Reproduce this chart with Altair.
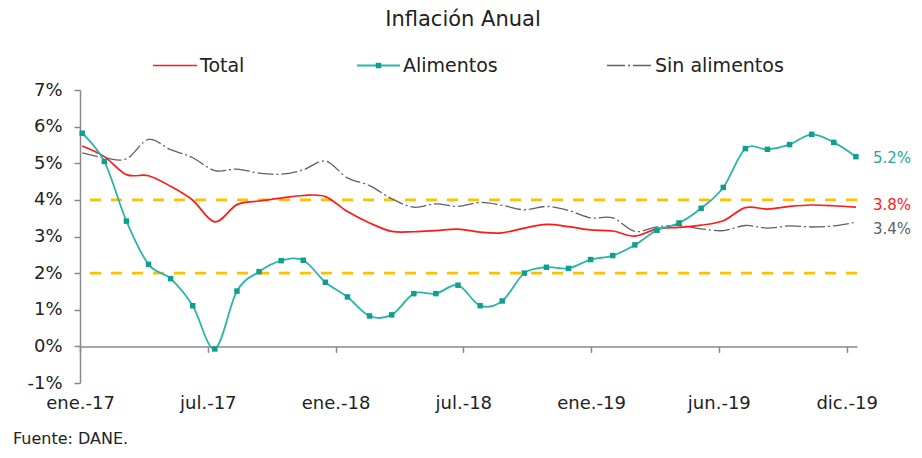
import altair as alt
import pandas as pd

# ---------------- data ----------------
months = ["2017-01", "2017-02", "2017-03", "2017-04", "2017-05", "2017-06",
          "2017-07", "2017-08", "2017-09", "2017-10", "2017-11", "2017-12",
          "2018-01", "2018-02", "2018-03", "2018-04", "2018-05", "2018-06",
          "2018-07", "2018-08", "2018-09", "2018-10", "2018-11", "2018-12",
          "2019-01", "2019-02", "2019-03", "2019-04", "2019-05", "2019-06",
          "2019-07", "2019-08", "2019-09", "2019-10", "2019-11", "2019-12"]

total = [5.47, 5.18, 4.69, 4.66, 4.37, 3.99, 3.40, 3.87, 3.97, 4.05, 4.12, 4.09,
         3.68, 3.37, 3.14, 3.13, 3.16, 3.20, 3.12, 3.10, 3.23, 3.33, 3.27, 3.18,
         3.15, 3.01, 3.21, 3.25, 3.31, 3.43, 3.79, 3.75, 3.82, 3.86, 3.84, 3.80]

alimentos = [5.82, 5.05, 3.42, 2.24, 1.85, 1.11, -0.07, 1.51, 2.04, 2.34, 2.35, 1.75,
             1.35, 0.83, 0.86, 1.44, 1.44, 1.67, 1.11, 1.24, 2.00, 2.16, 2.13, 2.37,
             2.48, 2.77, 3.17, 3.37, 3.77, 4.34, 5.40, 5.38, 5.51, 5.79, 5.57, 5.18]

sin_alimentos = [5.28, 5.15, 5.12, 5.65, 5.37, 5.15, 4.80, 4.84, 4.73, 4.70, 4.82, 5.06,
                 4.60, 4.39, 4.03, 3.80, 3.89, 3.82, 3.93, 3.85, 3.73, 3.82, 3.71, 3.51,
                 3.51, 3.14, 3.26, 3.30, 3.21, 3.16, 3.30, 3.23, 3.29, 3.26, 3.29, 3.39]

series_names = ["Total", "Alimentos", "Sin alimentos"]
series_colors = ["#FF1A1A", "#22A99B", "#5F5F6A"]
reference_levels = [2, 4]
tick_labels = ["ene.-17", "jul.-17", "ene.-18", "jul.-18", "ene.-19", "jun.-19", "dic.-19"]
title_text = "Inflación Anual"
source_text = "Fuente: DANE."

# ---------------- layout / style ----------------
W, H = 777, 293
PAD = {"left": 72, "top": 82, "right": 57, "bottom": 67}
Y_MIN, Y_MAX = -1, 7
X_MIN, X_MAX = -0.1, 35.05
TICK_STEP = 5.78
FONT = "DejaVu Sans"
TXT = "#222222"
AX = "#8a8a8a"

rows = []
for name, vals in zip(series_names, [total, alimentos, sin_alimentos]):
    for i, (m, v) in enumerate(zip(months, vals)):
        rows.append({"serie": name, "i": i, "mes": m, "valor": v})
df = pd.DataFrame(rows)
last_i = len(months) - 1

tick_vals = [X_MIN + k * TICK_STEP for k in range(len(tick_labels))]
label_expr = ("[" + ",".join(f"'{t}'" for t in tick_labels) + "]"
              + f"[round((datum.value - ({X_MIN})) / {TICK_STEP})]")

x_scale = alt.Scale(domain=[X_MIN, X_MAX], nice=False, zero=False)
y_scale = alt.Scale(domain=[Y_MIN, Y_MAX], nice=False, zero=False)

y_axis = alt.Axis(values=list(range(Y_MIN, Y_MAX + 1)), labelExpr="datum.value + '%'",
                  grid=False, domainColor=AX, domainWidth=1.5, tickColor=AX, tickWidth=1.5,
                  tickSize=6, labelPadding=12, labelFont=FONT, labelFontSize=18,
                  labelColor=TXT, title=None)

label_axis = alt.Axis(orient="bottom", values=tick_vals, labelExpr=label_expr, domain=False,
                      ticks=False, tickSize=0, labelPadding=11, labelFont=FONT,
                      labelFontSize=18, labelColor=TXT, labelOverlap=False, labelFlush=False,
                      grid=False, title=None)

zero_offset = -(H * (0 - Y_MIN) / (Y_MAX - Y_MIN))
tick_axis = alt.Axis(orient="bottom", values=tick_vals, labels=False, domain=True, ticks=True,
                     tickSize=6, domainColor=AX, domainWidth=1.5, tickColor=AX, tickWidth=1.5,
                     offset=zero_offset, grid=False, title=None)


def x_enc(axis):
    return alt.X("i:Q", scale=x_scale, axis=axis)


y_enc = alt.Y("valor:Q", scale=y_scale, axis=y_axis)

base = alt.Chart(df)

ref = alt.Chart(pd.DataFrame({"valor": reference_levels})).mark_rule(
    color="#FFC000", strokeWidth=2.6, strokeDash=[11, 10]
).encode(y=y_enc)

gray_line = base.transform_filter(alt.datum.serie == series_names[2]).mark_line(
    color=series_colors[2], strokeWidth=1.3, strokeDash=[16, 3, 2, 3], interpolate="cardinal"
).encode(x=x_enc(None), y=y_enc)

red_line = base.transform_filter(alt.datum.serie == series_names[0]).mark_line(
    color=series_colors[0], strokeWidth=1.7, interpolate="cardinal"
).encode(x=x_enc(label_axis), y=y_enc)

teal_line = base.transform_filter(alt.datum.serie == series_names[1]).mark_line(
    color="#2BB5A6", strokeWidth=1.8, interpolate="cardinal"
).encode(x=x_enc(None), y=y_enc)

teal_pts = base.transform_filter(alt.datum.serie == series_names[1]).mark_point(
    shape="square", filled=True, size=30, color="#109E8F", opacity=1
).encode(x=x_enc(tick_axis), y=y_enc)


def end_label(idx, dy):
    return base.transform_filter(
        (alt.datum.i == last_i) & (alt.datum.serie == series_names[idx])
    ).transform_calculate(
        lbl="format(datum.valor, '.1f') + '%'"
    ).mark_text(align="left", baseline="middle", dx=17, dy=dy, font=FONT, fontSize=15,
                color=series_colors[idx]).encode(x=x_enc(None), y=y_enc, text="lbl:N")


end_labels = [end_label(0, -2), end_label(1, 1), end_label(2, 7)]


def text_layer(s, x, y, size, align="left"):
    return alt.Chart(pd.DataFrame({"t": [s]})).mark_text(
        font=FONT, fontSize=size, align=align, baseline="middle", color=TXT
    ).encode(x=alt.value(x), y=alt.value(y), text="t:N")


def legend_rule(x1, x2, y, color, width, dash=None):
    kw = dict(color=color, strokeWidth=width)
    if dash:
        kw["strokeDash"] = dash
    return alt.Chart(pd.DataFrame({"t": [0]})).mark_rule(**kw).encode(
        x=alt.value(x1), x2=alt.value(x2), y=alt.value(y))


LY = -24.5
legend = [
    legend_rule(73, 117, LY, series_colors[0], 1.7),
    text_layer(series_names[0], 120, LY, 19),
    legend_rule(277, 320, LY, "#2BB5A6", 1.8),
    alt.Chart(pd.DataFrame({"t": [0]})).mark_point(
        shape="square", filled=True, size=30, color="#109E8F", opacity=1
    ).encode(x=alt.value(298.5), y=alt.value(LY)),
    text_layer(series_names[1], 323, LY, 19),
    legend_rule(527, 571, LY, series_colors[2], 1.3, [18, 3, 2, 3]),
    text_layer(series_names[2], 575, LY, 19),
]

title = text_layer(title_text, 383, -70, 21, align="center")
source = text_layer(source_text, -67, 349, 16)

chart = alt.layer(
    ref, gray_line, red_line, teal_line, teal_pts, *end_labels, *legend, title, source
).resolve_axis(x="independent").properties(
    width=W, height=H, padding=PAD, autosize=alt.AutoSizeParams(type="none")
).configure_view(stroke=None)

chart.save("out.html", embed_options={"renderer": "svg", "actions": False})
